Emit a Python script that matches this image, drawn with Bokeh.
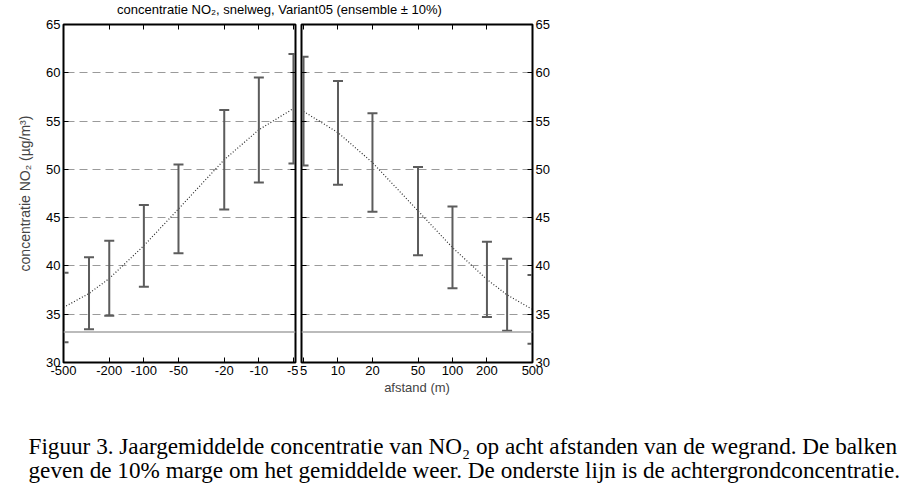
from bokeh.plotting import figure
from bokeh.models import Range1d, FixedTicker, LinearAxis, LogAxis, Span
from bokeh.layouts import column, row
from bokeh.embed import file_html
from bokeh.resources import INLINE
from bokeh.core.properties import value

# ---------------- data ----------------
title_text = "concentratie NO\u2082, snelweg, Variant05 (ensemble \u00b1 10%)"
y_label = "concentratie NO\u2082 (\u00b5g/m\u00b3)"
x_label = "afstand (m)"
caption_lines = [
    "Figuur 3. Jaargemiddelde concentratie van NO\u2082 op acht afstanden van de wegrand. De balken",
    "geven de 10% marge om het gemiddelde weer. De onderste lijn is de achtergrondconcentratie.",
]
y_ticks = [30, 35, 40, 45, 50, 55, 60, 65]
left_tick_values = [-500, -200, -100, -50, -20, -10, -5]
right_tick_values = [5, 10, 20, 50, 100, 200, 500]

left_dist = [-500, -300, -200, -100, -50, -20, -10, -5]
left_mean = [35.7, 37.15, 38.7, 42.1, 45.9, 51.0, 54.1, 56.3]
left_low = [32.1, 33.45, 34.85, 37.85, 41.3, 45.85, 48.65, 50.6]
left_high = [39.3, 40.9, 42.6, 46.3, 50.5, 56.15, 59.5, 61.95]

right_dist = [5, 10, 20, 50, 100, 200, 300, 500]
right_mean = [56.0, 53.8, 50.7, 45.7, 41.9, 38.6, 37.0, 35.5]
right_low = [50.4, 48.4, 45.6, 41.1, 37.7, 34.7, 33.3, 31.95]
right_high = [61.65, 59.15, 55.8, 50.25, 46.15, 42.5, 40.75, 39.05]

background = 33.15

# ---------------- styling ----------------
SANS = "Liberation Sans"
SERIF = "Liberation Serif"
BAR = "#5c5c5c"
GRID = "#9a9a9a"
BG = "#a4a4a4"


def style_axis(ax, show_labels):
    ax.major_tick_in = 5
    ax.major_tick_out = 0
    ax.minor_tick_in = 0
    ax.minor_tick_out = 0
    ax.major_tick_line_color = "black"
    ax.axis_line_color = "black"
    ax.axis_line_width = 1
    if show_labels:
        ax.major_label_text_font = SANS
        ax.major_label_text_font_size = "13px"
        ax.major_label_text_color = "black"
        ax.major_label_standoff = 3
    else:
        ticks = ax.ticker.ticks
        ax.major_label_overrides = {t: "" for t in ticks}
        ax.major_label_text_font_size = "1px"
        ax.major_label_standoff = 0
        ax.axis_label = None


def panel(side):
    if side == "left":
        xr = Range1d(500, 4.8)
        ticks = [abs(v) for v in left_tick_values]
        overrides = {abs(v): str(v) for v in left_tick_values}
        mb_left, mb_right, fw = 63, 3, 232
        ylab_loc = "left"
    else:
        xr = Range1d(4.8, 500)
        ticks = list(right_tick_values)
        overrides = {v: str(v) for v in right_tick_values}
        mb_left, mb_right, fw = 3, 35, 231
        ylab_loc = "right"

    p = figure(x_axis_type="log", x_range=xr, y_range=Range1d(30, 65),
               frame_width=fw, frame_height=338,
               min_border_left=mb_left, min_border_right=mb_right,
               min_border_top=7, min_border_bottom=38,
               y_axis_location=ylab_loc,
               output_backend="svg", toolbar_location=None)
    p.background_fill_color = "white"
    p.border_fill_color = "white"
    p.outline_line_color = "black"
    p.outline_line_width = 2

    xa = p.xaxis[0]
    xa.ticker = FixedTicker(ticks=ticks)
    xa.major_label_overrides = overrides
    style_axis(xa, True)
    ya = p.yaxis[0]
    ya.ticker = FixedTicker(ticks=y_ticks)
    style_axis(ya, True)

    other_y = LinearAxis(ticker=FixedTicker(ticks=y_ticks))
    style_axis(other_y, False)
    if side == "left":
        ya.axis_label = y_label
        ya.axis_label_text_font = SANS
        ya.axis_label_text_font_size = "14px"
        ya.axis_label_text_font_style = "normal"
        ya.axis_label_standoff = 10
        p.add_layout(other_y, "right")
    else:
        xa.axis_label = x_label
        xa.axis_label_text_font = SANS
        xa.axis_label_text_font_size = "13px"
        xa.axis_label_text_font_style = "normal"
        xa.axis_label_standoff = 2
        p.add_layout(other_y, "left")

    top = LogAxis(ticker=FixedTicker(ticks=ticks))
    style_axis(top, False)
    p.add_layout(top, "above")

    p.xgrid.visible = False
    p.ygrid.ticker = FixedTicker(ticks=y_ticks)
    p.ygrid.grid_line_color = GRID
    p.ygrid.grid_line_dash = "8 5"
    p.ygrid.grid_line_width = 1

    if side == "left":
        xs = [abs(v) for v in left_dist]
        mean, low, high = left_mean, left_low, left_high
    else:
        xs = list(right_dist)
        mean, low, high = right_mean, right_low, right_high

    p.add_layout(Span(location=background, dimension="width",
                      line_color=BG, line_width=1.5))
    p.line(xs, mean, line_color="#2a2a2a", line_width=1.2, line_dash="1 2")
    p.segment(x0=xs, y0=low, x1=xs, y1=high, line_color=BAR, line_width=2)
    p.scatter(xs + xs, low + high, marker="dash", size=10,
              line_color=BAR, line_width=2)
    return p


def text_fig(w, h):
    f = figure(width=w, height=h, x_range=Range1d(0, w), y_range=Range1d(0, h),
               min_border=0, x_axis_location=None, y_axis_location=None,
               output_backend="svg", toolbar_location=None)
    f.outline_line_color = None
    f.grid.visible = False
    f.background_fill_color = "white"
    f.border_fill_color = "white"
    return f


title_fig = text_fig(916, 17)
title_fig.text(x=[279], y=[8.5], text=[title_text], text_font=value(SANS),
               text_font_size="13px", text_align="center",
               text_baseline="middle", text_color="black")

left = panel("left")
right = panel("right")

cap = text_fig(916, 92)
cap.text(x=[28, 28], y=[47, 23], text=caption_lines, text_font=value(SERIF),
         text_font_size="23.2px", text_align="left",
         text_baseline="alphabetic", text_color="black")

layout = column(title_fig, row(left, right, spacing=0), cap, spacing=0)

open("out.html", "w").write(file_html(layout, INLINE))
